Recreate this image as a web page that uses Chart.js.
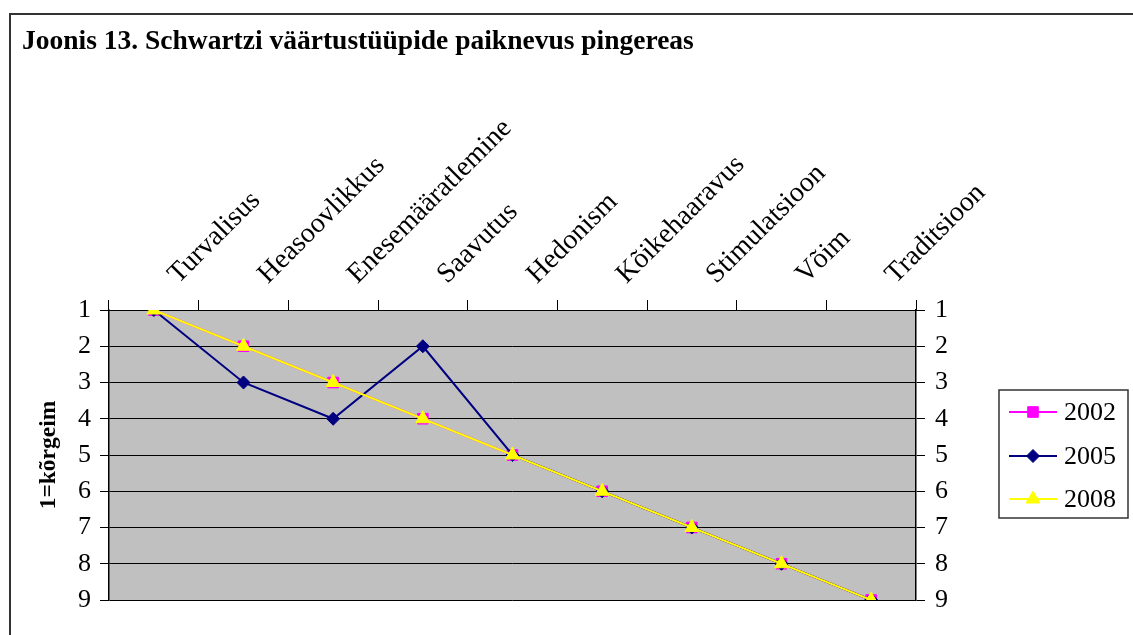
<!DOCTYPE html>
<html><head><meta charset="utf-8">
<script src="https://cdn.jsdelivr.net/npm/chart.js@4.4.1/dist/chart.umd.min.js"></script>
<style>
html,body{margin:0;padding:0;background:#fff;overflow:hidden;}
#frame{position:absolute;left:9px;top:13px;width:1200px;height:700px;border-left:2px solid #333;border-top:2px solid #333;}
#wrap{position:absolute;left:0;top:0;width:1133px;height:635px;}
</style></head><body>
<div id="frame"></div>
<div id="wrap"><canvas id="c"></canvas></div>
<script>
const titleText = 'Joonis 13. Schwartzi väärtustüüpide paiknevus pingereas';
const axisTitle = '1=kõrgeim';
const categories = ['Turvalisus','Heasoovlikkus','Enesemääratlemine','Saavutus','Hedonism','Kõikehaaravus','Stimulatsioon','Võim','Traditsioon'];
const seriesNames = ['2002','2005','2008'];
const values2002 = [1,2,3,4,5,6,7,8,9];
const values2005 = [1,3,4,2,5,6,7,8,9];
const values2008 = [1,2,3,4,5,6,7,8,9];
const rankMin = 1, rankMax = 9, rankStep = 1;

const serif = "'Liberation Serif','Times New Roman',serif";
Chart.defaults.font.family = serif;
Chart.defaults.color = '#000';

const bgPlugin = {
  id:'plotBg',
  beforeDraw(chart){
    const {ctx, chartArea:a} = chart;
    ctx.save(); ctx.fillStyle = '#c0c0c0';
    ctx.fillRect(a.left, a.top, a.right - a.left, a.bottom - a.top);
    ctx.restore();
  }
};

const legendPlugin = {
  id:'boxLegend',
  afterDraw(chart){
    const {ctx, chartArea:a} = chart;
    const w = 129, h = 128;
    const x = a.right + 83, y = (a.top + a.bottom)/2 - h/2 - 1;
    ctx.save();
    ctx.strokeStyle = '#333'; ctx.lineWidth = 1.5;
    ctx.strokeRect(x, y, w, h);
    const rows = [22, 66, 109];
    chart.data.datasets.forEach((ds, i) => {
      const cy = y + rows[i];
      ctx.strokeStyle = ds.borderColor; ctx.lineWidth = ds.borderWidth;
      ctx.beginPath(); ctx.moveTo(x + 10, cy); ctx.lineTo(x + 58, cy); ctx.stroke();
      ctx.fillStyle = ds.backgroundColor; ctx.lineWidth = 1;
      Chart.helpers.drawPoint(ctx, {pointStyle: ds.pointStyle, radius: ds.pointRadius, borderWidth: 1, rotation: 0}, x + 34, cy);
      ctx.fillStyle = '#000'; ctx.font = '26px ' + serif; ctx.textBaseline = 'middle'; ctx.textAlign = 'left';
      ctx.fillText(ds.label, x + 65, cy + 1);
    });
    ctx.restore();
  }
};

const mk = (label, data, color, style, r, order) => ({
  label, data, borderColor: color, backgroundColor: color, borderWidth: 2,
  pointStyle: style, pointRadius: r, pointHoverRadius: r, pointBorderWidth: 1,
  pointBackgroundColor: color, pointBorderColor: color, order, yAxisID: 'y', tension: 0
});

new Chart(document.getElementById('c'), {
  type: 'line',
  data: {
    labels: categories,
    datasets: [
      mk(seriesNames[0], values2002, '#ff00ff', 'rect', 7.5, 3),
      mk(seriesNames[1], values2005, '#000080', 'rectRot', 6.5, 2),
      mk(seriesNames[2], values2008, '#ffff00', 'triangle', 8, 1)
    ]
  },
  options: {
    responsive: true, maintainAspectRatio: false, animation: false,
    layout: {padding: {left: 22, right: 0, top: 0, bottom: 35}},
    plugins: {
      legend: {display: false}, tooltip: {enabled: false},
      title: {display: true, text: titleText, align: 'start', color: '#000',
        font: {size: 27.5, weight: 'bold', family: serif, lineHeight: 1.2}, padding: {top: 25, bottom: 0}}
    },
    scales: {
      x: {
        type: 'category', position: 'top', offset: true,
        grid: {offset: true, drawOnChartArea: false, color: '#000', tickLength: 10, lineWidth: 1},
        border: {display: true, color: '#000', width: 1},
        ticks: {autoSkip: false, minRotation: 45, maxRotation: 45, font: {size: 28}, color: '#000', padding: 9, labelOffset: 43},
        afterFit(s){ s.height = 252; }
      },
      y: {
        position: 'left', reverse: true, min: rankMin, max: rankMax,
        ticks: {stepSize: rankStep, font: {size: 26}, color: '#000', padding: 9},
        grid: {color: '#000', tickLength: 9, lineWidth: 1},
        border: {display: true, color: '#000', width: 1.5},
        title: {display: true, text: axisTitle, color: '#000', font: {size: 23.5, weight: 'bold'}, padding: {top: 13, bottom: 0}},
        afterFit(s){ s.width = 87; }
      },
      y2: {
        position: 'right', reverse: true, min: rankMin, max: rankMax,
        ticks: {stepSize: rankStep, font: {size: 26}, color: '#000', padding: 10},
        grid: {drawOnChartArea: false, color: '#000', tickLength: 9, lineWidth: 1},
        border: {display: true, color: '#000', width: 1.5},
        afterFit(s){ s.width = 217; }
      }
    }
  },
  plugins: [bgPlugin, legendPlugin]
});
</script>
</body></html>
